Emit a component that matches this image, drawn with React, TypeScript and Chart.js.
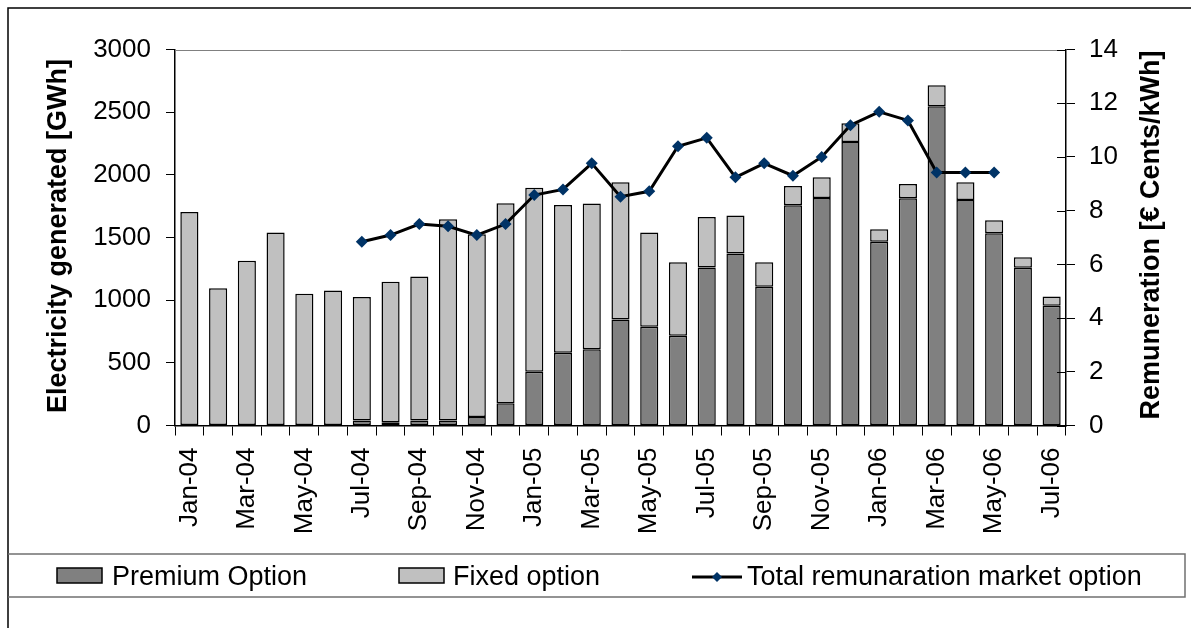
import React, { useEffect, useRef } from "react";
import { Chart, registerables } from "chart.js";

Chart.register(...registerables);

const months = [
  "Jan-04", "Feb-04", "Mar-04", "Apr-04", "May-04", "Jun-04", "Jul-04", "Aug-04", "Sep-04", "Oct-04", "Nov-04", "Dec-04",
  "Jan-05", "Feb-05", "Mar-05", "Apr-05", "May-05", "Jun-05", "Jul-05", "Aug-05", "Sep-05", "Oct-05", "Nov-05", "Dec-05",
  "Jan-06", "Feb-06", "Mar-06", "Apr-06", "May-06", "Jun-06", "Jul-06",
];

const premiumOption = [
  null, null, null, null, null, null, 40, 25, 40, 40, 68, 178,
  428, 580, 608, 845, 787, 717, 1260, 1373, 1107, 1757, 1816, 2261,
  1467, 1813, 2547, 1800, 1533, 1259, 955,
];

const fixedOption = [
  1704, 1095, 1315, 1539, 1051, 1078, 985, 1122, 1149, 1605, 1457, 1595,
  1469, 1180, 1164, 1095, 753, 585, 403, 302, 195, 153, 164, 151,
  98, 114, 168, 140, 104, 84, 75,
];

const totalRemuneration = [
  null, null, null, null, null, null, 6.84, 7.09, 7.5, 7.42, 7.09, 7.5,
  8.58, 8.79, 9.76, 8.52, 8.72, 10.4, 10.71, 9.24, 9.76, 9.3, 10.0, 11.18,
  11.68, 11.36, 9.42, 9.42, 9.42, null, null,
];

const leftTicks = [0, 500, 1000, 1500, 2000, 2500, 3000];
const rightTicks = [0, 2, 4, 6, 8, 10, 12, 14];

const FONT = "'Liberation Sans', Arial, Helvetica, sans-serif";

const decor = {
  id: "decor",
  beforeDraw(chart: any) {
    const ctx = chart.ctx;
    ctx.save();
    ctx.fillStyle = "#fff";
    ctx.fillRect(0, 0, chart.width, chart.height);
    ctx.restore();
  },
  afterDraw(chart: any) {
    const ctx = chart.ctx;
    const { left, right, top } = chart.chartArea;
    ctx.save();
    // top border of plot area
    ctx.strokeStyle = "#808080";
    ctx.lineWidth = 1;
    ctx.beginPath();
    ctx.moveTo(left, Math.round(top) + 0.5);
    ctx.lineTo(right, Math.round(top) + 0.5);
    ctx.stroke();

    // inner part of right-axis ticks
    const y1 = chart.scales.y1;
    ctx.strokeStyle = "#000";
    ctx.lineWidth = 1;
    rightTicks.forEach((v) => {
      const py = Math.round(y1.getPixelForValue(v)) + 0.5;
      ctx.beginPath();
      ctx.moveTo(right - 9, py);
      ctx.lineTo(right, py);
      ctx.stroke();
    });

    // outer frame
    ctx.strokeStyle = "#000";
    ctx.lineWidth = 1.5;
    ctx.strokeRect(8, 8, 1300, 800);

    // axis titles
    ctx.fillStyle = "#000";
    ctx.font = `bold 27px ${FONT}`;
    ctx.textAlign = "center";
    ctx.textBaseline = "alphabetic";
    ctx.save();
    ctx.translate(66, 236);
    ctx.rotate(-Math.PI / 2);
    ctx.fillText("Electricity generated [GWh]", 0, 0);
    ctx.restore();
    ctx.save();
    ctx.translate(1159, 235);
    ctx.rotate(-Math.PI / 2);
    ctx.fillText("Remuneration [€ Cents/kWh]", 0, 0);
    ctx.restore();

    // legend box
    ctx.strokeStyle = "#707070";
    ctx.lineWidth = 1.5;
    ctx.beginPath();
    ctx.moveTo(8, 554);
    ctx.lineTo(1185, 554);
    ctx.lineTo(1185, 597);
    ctx.lineTo(8, 597);
    ctx.stroke();

    ctx.lineWidth = 1.5;
    ctx.strokeStyle = "#000";
    ctx.fillStyle = "#808080";
    ctx.fillRect(57, 568, 45, 15);
    ctx.strokeRect(57, 568, 45, 15);
    ctx.fillStyle = "#c0c0c0";
    ctx.fillRect(399, 568, 45, 15);
    ctx.strokeRect(399, 568, 45, 15);

    ctx.lineWidth = 3;
    ctx.beginPath();
    ctx.moveTo(692, 577);
    ctx.lineTo(742, 577);
    ctx.stroke();
    ctx.fillStyle = "#003366";
    ctx.beginPath();
    ctx.moveTo(717, 572);
    ctx.lineTo(722, 577);
    ctx.lineTo(717, 582);
    ctx.lineTo(712, 577);
    ctx.closePath();
    ctx.fill();

    ctx.fillStyle = "#000";
    ctx.font = `27px ${FONT}`;
    ctx.textAlign = "left";
    ctx.textBaseline = "alphabetic";
    ctx.fillText("Premium Option", 112, 585);
    ctx.fillText("Fixed option", 453, 585);
    ctx.fillText("Total remunaration market option", 747, 585);
    ctx.restore();
  },
};

export default function App() {
  const ref = useRef<HTMLCanvasElement>(null);
  useEffect(() => {
    if (!ref.current) return;
    const chart = new Chart(ref.current, {
      type: "bar",
      data: {
        labels: months,
        datasets: [
          {
            type: "line",
            label: "Total remunaration market option",
            data: totalRemuneration,
            yAxisID: "y1",
            borderColor: "#000",
            borderWidth: 3,
            pointStyle: "rectRot",
            pointRadius: 6,
            pointBackgroundColor: "#003366",
            pointBorderColor: "#003366",
            pointBorderWidth: 0,
            tension: 0,
            spanGaps: false,
            order: 0,
          } as any,
          {
            type: "bar",
            label: "Premium Option",
            data: premiumOption,
            yAxisID: "y",
            stack: "s",
            backgroundColor: "#808080",
            borderColor: "#000",
            borderWidth: 1.5,
            borderSkipped: false,
            categoryPercentage: 1,
            barPercentage: 0.63,
            order: 1,
          },
          {
            type: "bar",
            label: "Fixed option",
            data: fixedOption,
            yAxisID: "y",
            stack: "s",
            backgroundColor: "#c0c0c0",
            borderColor: "#000",
            borderWidth: 1.5,
            borderSkipped: false,
            categoryPercentage: 1,
            barPercentage: 0.63,
            order: 1,
          },
        ],
      },
      options: {
        responsive: false,
        animation: false,
        layout: { padding: { top: 49.5, left: 0, right: 0, bottom: 0 } },
        plugins: {
          legend: { display: false },
          tooltip: { enabled: false },
          title: { display: false },
        },
        scales: {
          x: {
            stacked: true,
            offset: true,
            grid: {
              display: true,
              drawOnChartArea: false,
              offset: true,
              tickLength: 10,
              color: "#000",
              lineWidth: 1,
            },
            border: { display: true, color: "#000", width: 1.5 },
            ticks: {
              autoSkip: false,
              minRotation: 90,
              maxRotation: 90,
              padding: 12,
              color: "#000",
              font: { family: FONT, size: 26 },
              callback: (_v: any, i: number) => (i % 2 === 0 ? months[i] : ""),
            },
            afterFit: (axis: any) => {
              axis.height = 202.5;
            },
          },
          y: {
            position: "left",
            stacked: true,
            min: 0,
            max: 3000,
            afterBuildTicks: (axis: any) => {
              axis.ticks = leftTicks.map((v) => ({ value: v }));
            },
            grid: {
              display: true,
              drawOnChartArea: false,
              tickLength: 9,
              color: "#000",
              lineWidth: 1,
            },
            border: { display: true, color: "#000", width: 1.5 },
            ticks: {
              padding: 15,
              color: "#000",
              font: { family: FONT, size: 26 },
              callback: (v: any) => String(v),
            },
            afterFit: (axis: any) => {
              axis.width = 175;
            },
          },
          y1: {
            position: "right",
            stacked: false,
            min: 0,
            max: 14,
            afterBuildTicks: (axis: any) => {
              axis.ticks = rightTicks.map((v) => ({ value: v }));
            },
            grid: {
              display: true,
              drawOnChartArea: false,
              tickLength: 9,
              color: "#000",
              lineWidth: 1,
            },
            border: { display: true, color: "#000", width: 1.5 },
            ticks: {
              padding: 14,
              color: "#000",
              font: { family: FONT, size: 26 },
              callback: (v: any) => String(v),
            },
            afterFit: (axis: any) => {
              axis.width = 125;
            },
          },
        },
      },
      plugins: [decor],
    });
    return () => chart.destroy();
  }, []);

  return (
    <div style={{ position: "absolute", left: 0, top: 0, width: 1191, height: 628, overflow: "hidden" }}>
      <canvas ref={ref} width={1191} height={628} style={{ display: "block" }} />
    </div>
  );
}
